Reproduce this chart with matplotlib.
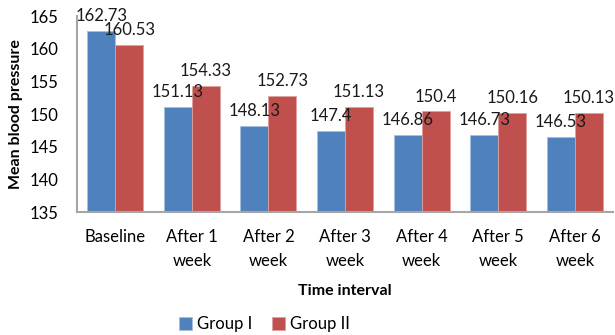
import numpy as np
import matplotlib
matplotlib.use("Agg")
import matplotlib.pyplot as plt

plt.rcParams['font.family'] = ['Lato', 'DejaVu Sans']

# mean blood pressure per time point
intervals = ['Baseline', 'After 1\nweek', 'After 2\nweek', 'After 3\nweek',
             'After 4\nweek', 'After 5\nweek', 'After 6\nweek']
group_1 = [162.73, 151.13, 148.13, 147.4, 146.86, 146.73, 146.53]
group_2 = [160.53, 154.33, 152.73, 151.13, 150.4, 150.16, 150.13]
labels_1 = ['162.73', '151.13', '148.13', '147.4', '146.86', '146.73', '146.53']
labels_2 = ['160.53', '154.33', '152.73', '151.13', '150.4', '150.16', '150.13']

fig = plt.figure(figsize=(6.15, 3.35), dpi=100)
ax = fig.add_axes([0.125, 0.367, 0.872, 0.585])

x = np.arange(len(intervals))
w = 0.365
b1 = ax.bar(x - w/2, np.array(group_1) - 135, w, bottom=135, color='#4F81BD',
            edgecolor='#A7BFDE', linewidth=0.6, label='Group I')
b2 = ax.bar(x + w/2, np.array(group_2) - 135, w, bottom=135, color='#C0504D',
            edgecolor='#E0A09E', linewidth=0.6, label='Group II')

# value labels above each bar
for xs, vals, labs in [(x - w/2, group_1, labels_1), (x + w/2, group_2, labels_2)]:
    for xi, v, t in zip(xs, vals, labs):
        ax.annotate(t, (xi, v), xytext=(0, 5), textcoords='offset points',
                    ha='center', va='bottom', fontsize=12, color='#1a1a1a')

ax.set_ylim(135, 165)
ax.set_xlim(-0.5, len(intervals) - 0.5)
ax.set_yticks(range(135, 166, 5))
ax.set_xticks(x)
ax.set_xticklabels(intervals, fontsize=12, linespacing=1.65)
ax.tick_params(axis='y', labelsize=12, length=0, pad=13)
ax.tick_params(axis='x', length=0, pad=12)

for s in ['top', 'right']:
    ax.spines[s].set_visible(False)
for s in ['left', 'bottom']:
    ax.spines[s].set_color('#A6A6A6')
    ax.spines[s].set_linewidth(1.5)

ax.set_ylabel('Mean blood pressure', fontsize=11.5, fontweight='bold', labelpad=5)
ax.set_xlabel('Time interval', fontsize=11.5, fontweight='bold', labelpad=11)

fig.legend(handles=[b1, b2], loc='center', bbox_to_anchor=(0.43, 0.033),
           ncol=2, frameon=False, fontsize=12, handlelength=0.8,
           handleheight=0.8, handletextpad=0.3, columnspacing=1.2)

fig.savefig('out.png', dpi=100)
